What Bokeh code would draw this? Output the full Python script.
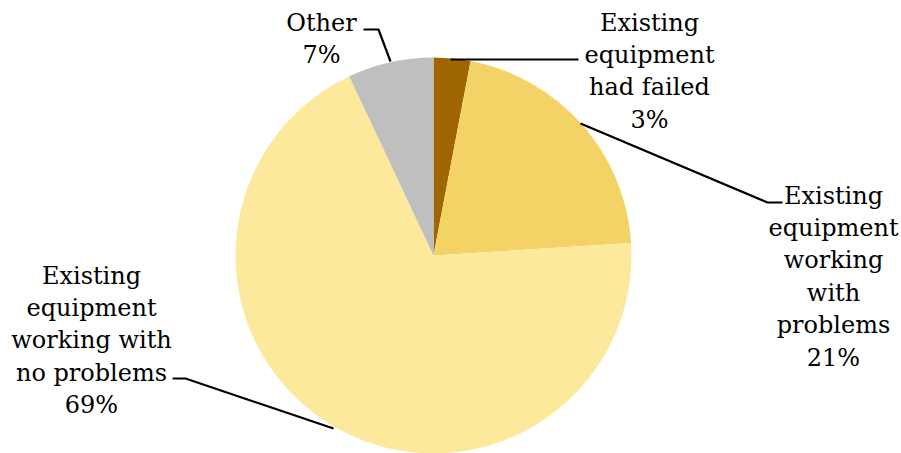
from math import pi
from bokeh.plotting import figure
from bokeh.models import Range1d, ColumnDataSource
from bokeh.core.properties import value
from bokeh.embed import file_html
from bokeh.resources import INLINE

# ---- data ----
categories = ["Existing equipment had failed",
              "Existing equipment working with problems",
              "Existing equipment working with no problems",
              "Other"]
shares = [3, 21, 69, 7]
colors = ["#9E6500", "#F4D366", "#FDE99B", "#BFBFBF"]
label_texts = ["Existing\nequipment\nhad failed\n3%",
               "Existing\nequipment\nworking\nwith\nproblems\n21%",
               "Existing\nequipment\nworking with\nno problems\n69%",
               "Other\n7%"]

W, H = 901, 453
def py(v):  # pixel-from-top to data y
    return H - v

cx, cy, R = 433, py(255), 198

total = float(sum(shares))
starts, ends = [], []
cum = 0.0
for s in shares:
    a0 = pi / 2 - 2 * pi * cum / total
    cum += s
    a1 = pi / 2 - 2 * pi * cum / total
    starts.append(a0)
    ends.append(a1)

p = figure(width=W, height=H, x_range=Range1d(0, W), y_range=Range1d(0, H),
           output_backend="svg", toolbar_location=None,
           x_axis_location=None, y_axis_location=None, min_border=0)
p.grid.visible = False
p.outline_line_color = None
p.background_fill_color = "white"
p.border_fill_color = "white"

src = ColumnDataSource(dict(start=starts, end=ends, color=colors, cat=categories))
p.wedge(x=cx, y=cy, radius=R, start_angle="start", end_angle="end",
        direction="clock", fill_color="color", line_color=None,
        source=src)

# leader lines (pixel coordinates from top)
leaders = [
    [(450, 59), (578, 59)],
    [(580, 123), (767, 202), (782, 202)],
    [(333, 428), (185, 378), (172, 378)],
    [(390, 61), (378, 29), (363, 29)],
]
for pts in leaders:
    p.line([q[0] for q in pts], [py(q[1]) for q in pts], line_color="black", line_width=2.2)

# labels: center x, first-line center y (pixels from top), line step
label_pos = [(649, 22), (833, 195), (91, 275), (321, 22)]
step = 32.4
xs, ys, ts = [], [], []
for (lx, ly), txt in zip(label_pos, label_texts):
    for i, line in enumerate(txt.split("\n")):
        xs.append(lx)
        ys.append(py(ly + i * step))
        ts.append(line)
p.text(x=xs, y=ys, text=ts,
       text_align="center", text_baseline="middle",
       text_font=value("DejaVu Serif"), text_font_size="24px",
       text_color="black")

open("out.html", "w").write(file_html(p, INLINE))
